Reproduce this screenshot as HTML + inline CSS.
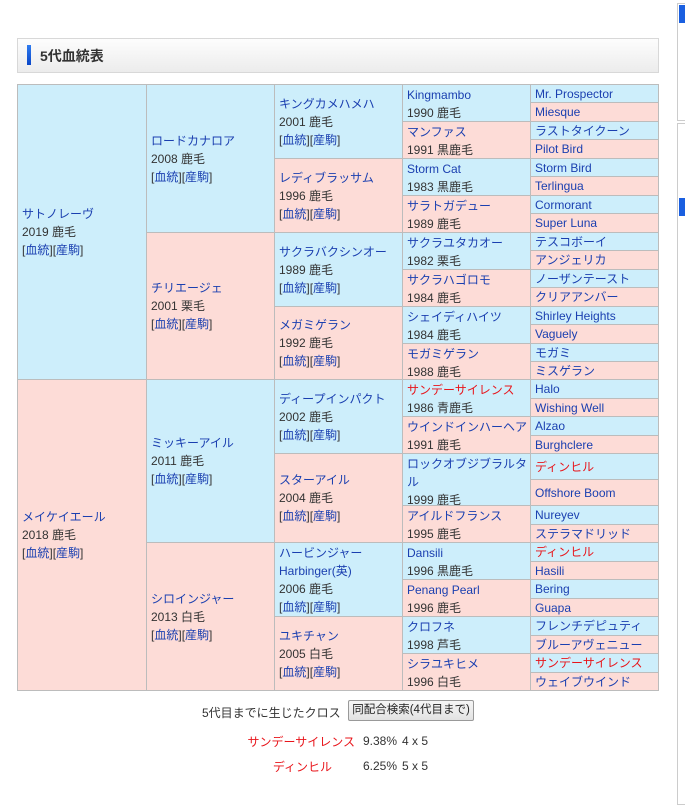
<!DOCTYPE html>
<html><head><meta charset="utf-8"><style>
body{margin:0;width:685px;height:787px;background:#fff;position:relative;overflow:hidden;font-family:"Liberation Sans","Noto Sans CJK JP",sans-serif;font-size:12px;color:#333}
.c{position:absolute;box-sizing:border-box;border:1px solid #bcbcbc;padding-left:4px;display:flex;flex-direction:column;justify-content:center;line-height:18px;overflow:hidden}
.t{justify-content:flex-start;padding-top:1px}
.m{background:#cdeefb}.f{background:#fddcd7}
a{color:#1a3fb0;text-decoration:none}
.r{color:#e8141a}
.hd{position:absolute;left:17px;top:38px;width:642px;height:35px;box-sizing:border-box;border:1px solid #d8d8d8;background:linear-gradient(#fdfdfd,#ececec)}
.hd .bar{position:absolute;left:9px;top:6px;width:4px;height:20px;background:linear-gradient(#2f7cf0,#0a46c8)}
.hd .tt{position:absolute;left:22px;top:7px;font-size:14px;font-weight:bold;color:#333}
.side{position:absolute;left:677px;border:1px solid #ccc;width:20px}
.ab{position:absolute;white-space:nowrap}
.btn{position:absolute;left:348px;top:700px;width:126px;height:21px;box-sizing:border-box;border:1px solid #999;border-radius:2px;background:linear-gradient(#f6f6f6,#e2e2e2);font-size:11.5px;text-align:center;line-height:19px;color:#222;white-space:nowrap}
</style></head><body>
<div class="side" style="top:3px;height:116px"></div>
<div class="side" style="top:123px;height:680px"></div>
<div style="position:absolute;left:679px;top:5px;width:8px;height:18px;background:#1a5fe0"></div>
<div style="position:absolute;left:679px;top:198px;width:8px;height:18px;background:#1a5fe0"></div>
<div class="hd"><div class="bar"></div><div class="tt">5代血統表</div></div>

<!-- gen1 -->
<div class="c m" style="left:17px;top:84px;width:130px;height:296px"><a>サトノレーヴ</a><span>2019 鹿毛</span><span>[<a>血統</a>][<a>産駒</a>]</span></div>
<div class="c f" style="left:17px;top:379px;width:130px;height:312px"><a>メイケイエール</a><span>2018 鹿毛</span><span>[<a>血統</a>][<a>産駒</a>]</span></div>
<!-- gen2 -->
<div class="c m" style="left:146px;top:84px;width:129px;height:149px"><a>ロードカナロア</a><span>2008 鹿毛</span><span>[<a>血統</a>][<a>産駒</a>]</span></div>
<div class="c f" style="left:146px;top:232px;width:129px;height:148px"><a>チリエージェ</a><span>2001 栗毛</span><span>[<a>血統</a>][<a>産駒</a>]</span></div>
<div class="c m" style="left:146px;top:379px;width:129px;height:164px"><a>ミッキーアイル</a><span>2011 鹿毛</span><span>[<a>血統</a>][<a>産駒</a>]</span></div>
<div class="c f" style="left:146px;top:542px;width:129px;height:149px"><a>シロインジャー</a><span>2013 白毛</span><span>[<a>血統</a>][<a>産駒</a>]</span></div>
<!-- gen3 -->
<div class="c m" style="left:274px;top:84px;width:129px;height:75px"><a>キングカメハメハ</a><span>2001 鹿毛</span><span>[<a>血統</a>][<a>産駒</a>]</span></div>
<div class="c f" style="left:274px;top:158px;width:129px;height:75px"><a>レディブラッサム</a><span>1996 鹿毛</span><span>[<a>血統</a>][<a>産駒</a>]</span></div>
<div class="c m" style="left:274px;top:232px;width:129px;height:75px"><a>サクラバクシンオー</a><span>1989 鹿毛</span><span>[<a>血統</a>][<a>産駒</a>]</span></div>
<div class="c f" style="left:274px;top:306px;width:129px;height:74px"><a>メガミゲラン</a><span>1992 鹿毛</span><span>[<a>血統</a>][<a>産駒</a>]</span></div>
<div class="c m" style="left:274px;top:379px;width:129px;height:75px"><a>ディープインパクト</a><span>2002 鹿毛</span><span>[<a>血統</a>][<a>産駒</a>]</span></div>
<div class="c f" style="left:274px;top:453px;width:129px;height:90px"><a>スターアイル</a><span>2004 鹿毛</span><span>[<a>血統</a>][<a>産駒</a>]</span></div>
<div class="c m" style="left:274px;top:542px;width:129px;height:75px"><a>ハービンジャー</a><a>Harbinger(英)</a><span>2006 鹿毛</span><span>[<a>血統</a>][<a>産駒</a>]</span></div>
<div class="c f" style="left:274px;top:616px;width:129px;height:75px"><a>ユキチャン</a><span>2005 白毛</span><span>[<a>血統</a>][<a>産駒</a>]</span></div>
<!-- gen4 -->
<div class="c m t" style="left:402px;top:84px;width:129px;height:38px"><a>Kingmambo</a><span>1990 鹿毛</span></div>
<div class="c f t" style="left:402px;top:121px;width:129px;height:38px"><a>マンファス</a><span>1991 黒鹿毛</span></div>
<div class="c m t" style="left:402px;top:158px;width:129px;height:38px"><a>Storm Cat</a><span>1983 黒鹿毛</span></div>
<div class="c f t" style="left:402px;top:195px;width:129px;height:38px"><a>サラトガデュー</a><span>1989 鹿毛</span></div>
<div class="c m t" style="left:402px;top:232px;width:129px;height:38px"><a>サクラユタカオー</a><span>1982 栗毛</span></div>
<div class="c f t" style="left:402px;top:269px;width:129px;height:38px"><a>サクラハゴロモ</a><span>1984 鹿毛</span></div>
<div class="c m t" style="left:402px;top:306px;width:129px;height:38px"><a>シェイディハイツ</a><span>1984 鹿毛</span></div>
<div class="c f t" style="left:402px;top:343px;width:129px;height:37px"><a>モガミゲラン</a><span>1988 鹿毛</span></div>
<div class="c m t" style="left:402px;top:379px;width:129px;height:38px"><a class="r">サンデーサイレンス</a><span>1986 青鹿毛</span></div>
<div class="c f t" style="left:402px;top:416px;width:129px;height:38px"><a>ウインドインハーヘア</a><span>1991 鹿毛</span></div>
<div class="c m t" style="left:402px;top:453px;width:129px;height:53px"><a>ロックオブジブラルタル</a><span>1999 鹿毛</span></div>
<div class="c f t" style="left:402px;top:505px;width:129px;height:38px"><a>アイルドフランス</a><span>1995 鹿毛</span></div>
<div class="c m t" style="left:402px;top:542px;width:129px;height:38px"><a>Dansili</a><span>1996 黒鹿毛</span></div>
<div class="c f t" style="left:402px;top:579px;width:129px;height:38px"><a>Penang Pearl</a><span>1996 鹿毛</span></div>
<div class="c m t" style="left:402px;top:616px;width:129px;height:38px"><a>クロフネ</a><span>1998 芦毛</span></div>
<div class="c f t" style="left:402px;top:653px;width:129px;height:38px"><a>シラユキヒメ</a><span>1996 白毛</span></div>
<!-- gen5 -->
<div class="c m" style="left:530px;top:84px;width:129px;height:19px"><a>Mr. Prospector</a></div>
<div class="c f" style="left:530px;top:102px;width:129px;height:20px"><a>Miesque</a></div>
<div class="c m" style="left:530px;top:121px;width:129px;height:19px"><a>ラストタイクーン</a></div>
<div class="c f" style="left:530px;top:139px;width:129px;height:20px"><a>Pilot Bird</a></div>
<div class="c m" style="left:530px;top:158px;width:129px;height:19px"><a>Storm Bird</a></div>
<div class="c f" style="left:530px;top:176px;width:129px;height:20px"><a>Terlingua</a></div>
<div class="c m" style="left:530px;top:195px;width:129px;height:19px"><a>Cormorant</a></div>
<div class="c f" style="left:530px;top:213px;width:129px;height:20px"><a>Super Luna</a></div>
<div class="c m" style="left:530px;top:232px;width:129px;height:19px"><a>テスコボーイ</a></div>
<div class="c f" style="left:530px;top:250px;width:129px;height:20px"><a>アンジェリカ</a></div>
<div class="c m" style="left:530px;top:269px;width:129px;height:19px"><a>ノーザンテースト</a></div>
<div class="c f" style="left:530px;top:287px;width:129px;height:20px"><a>クリアアンバー</a></div>
<div class="c m" style="left:530px;top:306px;width:129px;height:19px"><a>Shirley Heights</a></div>
<div class="c f" style="left:530px;top:324px;width:129px;height:20px"><a>Vaguely</a></div>
<div class="c m" style="left:530px;top:343px;width:129px;height:19px"><a>モガミ</a></div>
<div class="c f" style="left:530px;top:361px;width:129px;height:19px"><a>ミスゲラン</a></div>
<div class="c m" style="left:530px;top:379px;width:129px;height:20px"><a>Halo</a></div>
<div class="c f" style="left:530px;top:398px;width:129px;height:19px"><a>Wishing Well</a></div>
<div class="c m" style="left:530px;top:416px;width:129px;height:20px"><a>Alzao</a></div>
<div class="c f" style="left:530px;top:435px;width:129px;height:19px"><a>Burghclere</a></div>
<div class="c m" style="left:530px;top:453px;width:129px;height:27px"><a class="r">ディンヒル</a></div>
<div class="c f" style="left:530px;top:479px;width:129px;height:27px"><a>Offshore Boom</a></div>
<div class="c m" style="left:530px;top:505px;width:129px;height:20px"><a>Nureyev</a></div>
<div class="c f" style="left:530px;top:524px;width:129px;height:19px"><a>ステラマドリッド</a></div>
<div class="c m" style="left:530px;top:542px;width:129px;height:20px"><a class="r">ディンヒル</a></div>
<div class="c f" style="left:530px;top:561px;width:129px;height:19px"><a>Hasili</a></div>
<div class="c m" style="left:530px;top:579px;width:129px;height:20px"><a>Bering</a></div>
<div class="c f" style="left:530px;top:598px;width:129px;height:19px"><a>Guapa</a></div>
<div class="c m" style="left:530px;top:616px;width:129px;height:20px"><a>フレンチデピュティ</a></div>
<div class="c f" style="left:530px;top:635px;width:129px;height:19px"><a>ブルーアヴェニュー</a></div>
<div class="c m" style="left:530px;top:653px;width:129px;height:20px"><a class="r">サンデーサイレンス</a></div>
<div class="c f" style="left:530px;top:672px;width:129px;height:19px"><a>ウェイブウインド</a></div>

<div class="ab" style="left:202px;top:704px">5代目までに生じたクロス</div>
<div class="btn">同配合検索(4代目まで)</div>
<div class="ab r" style="right:330px;top:733px">サンデーサイレンス</div>
<div class="ab" style="left:363px;top:734px">9.38%</div>
<div class="ab" style="left:402px;top:734px">4 x 5</div>
<div class="ab r" style="right:353px;top:758px">ディンヒル</div>
<div class="ab" style="left:363px;top:759px">6.25%</div>
<div class="ab" style="left:402px;top:759px">5 x 5</div>
</body></html>
